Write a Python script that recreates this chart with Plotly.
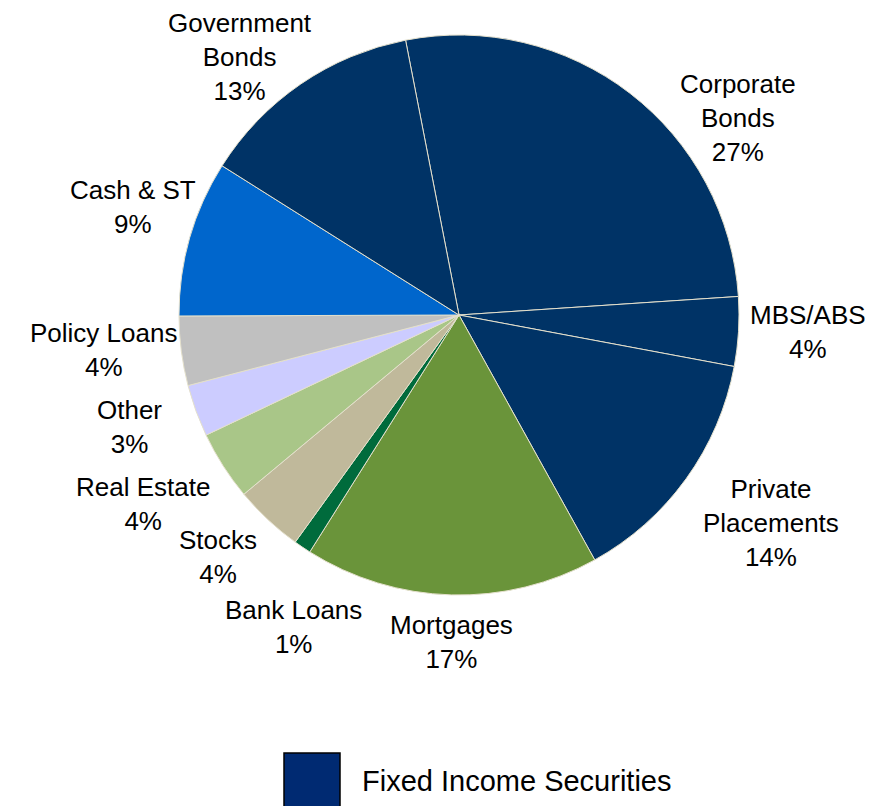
import plotly.graph_objects as go

# Asset allocation, clockwise from the top
categories = [
    "Corporate Bonds", "MBS/ABS", "Private Placements", "Mortgages",
    "Bank Loans", "Stocks", "Real Estate", "Other", "Policy Loans",
    "Cash & ST", "Government Bonds",
]
shares = [27, 4, 14, 17, 1, 4, 4, 3, 4, 9, 13]

# How each label is broken onto lines
label_lines = {
    "Corporate Bonds": "Corporate<br>Bonds",
    "Private Placements": "Private<br>Placements",
    "Government Bonds": "Government<br>Bonds",
}

NAVY = "#003366"
slice_colors = [
    NAVY, NAVY, NAVY, "#6A943A", "#006B3C", "#C0B99B", "#A9C688",
    "#CCCCFF", "#C0C0C0", "#0066CC", NAVY,
]

# Label centres in pixels (x, y of the block's middle)
label_pos = {
    "Corporate Bonds": (738, 118),
    "MBS/ABS": (808, 332),
    "Private Placements": (771, 523),
    "Mortgages": (451, 642),
    "Bank Loans": (293, 627),
    "Stocks": (218, 557),
    "Real Estate": (143, 504),
    "Other": (129, 427),
    "Policy Loans": (103, 350),
    "Cash & ST": (133, 207),
    "Government Bonds": (240, 57),
}

W, H = 891, 806
CX, CY, R = 459, 315, 280
FONT = "Liberation Sans, Arial, sans-serif"

fig = go.Figure(
    go.Pie(
        labels=categories,
        values=shares,
        sort=False,
        direction="clockwise",
        rotation=-11,
        marker=dict(colors=slice_colors, line=dict(color="#E4E0CC", width=1)),
        textinfo="none",
        hoverinfo="label+percent",
        showlegend=False,
        domain=dict(
            x=[(CX - R) / W, (CX + R) / W],
            y=[1 - (CY + R) / H, 1 - (CY - R) / H],
        ),
    )
)

annotations = []
for name, val in zip(categories, shares):
    px, py = label_pos[name]
    annotations.append(dict(
        x=px / W, y=1 - py / H, xref="paper", yref="paper",
        text=f"{label_lines.get(name, name)}<br>{val}%",
        showarrow=False, xanchor="center", yanchor="middle", align="center",
        font=dict(family=FONT, size=26, color="black"),
    ))

# Legend: one entry for the fixed income group
annotations.append(dict(
    x=360 / W, y=1 - 781 / H, xref="paper", yref="paper",
    text="Fixed Income Securities", showarrow=False,
    xanchor="left", yanchor="middle",
    font=dict(family=FONT, size=29, color="black"),
))

fig.update_layout(
    width=W, height=H,
    margin=dict(l=0, r=0, t=0, b=0),
    paper_bgcolor="white", plot_bgcolor="white",
    annotations=annotations,
    shapes=[dict(
        type="rect", xref="paper", yref="paper",
        x0=284 / W, x1=340 / W, y0=1 - 807 / H, y1=1 - 753 / H,
        fillcolor="#002A72", line=dict(color="black", width=1.5),
    )],
)

fig.write_html("out.html")
